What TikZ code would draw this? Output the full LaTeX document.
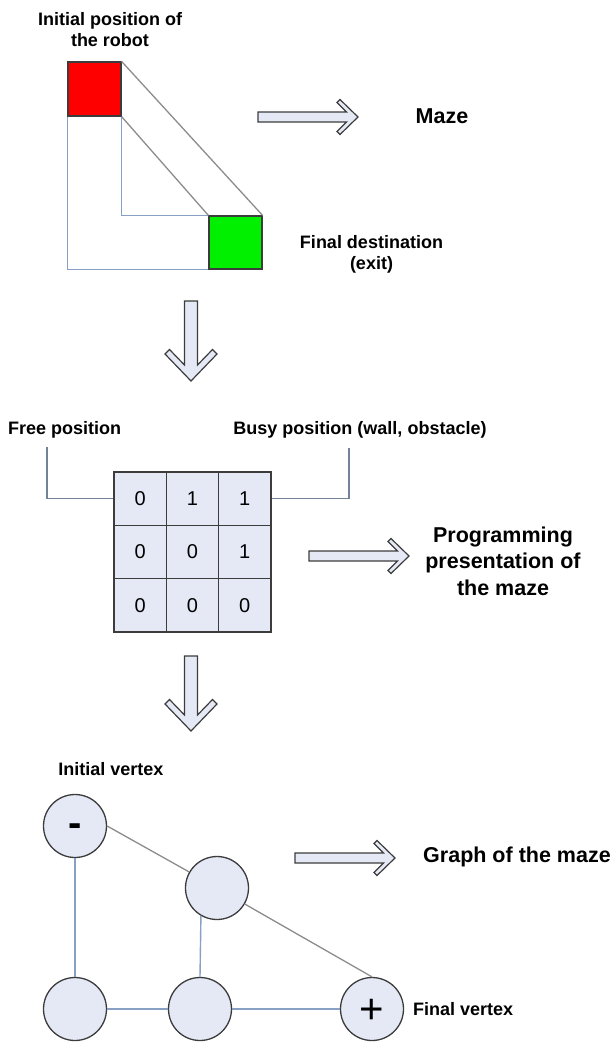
\documentclass[tikz,border=0pt]{standalone}
\usepackage{fontspec}
\setmainfont{Liberation Sans}
\usepackage{tikz}
\usetikzlibrary{calc,matrix,arrows}

\definecolor{wallblue}{RGB}{135,160,195}
\definecolor{wallgray}{RGB}{140,140,140}
\definecolor{leadgray}{RGB}{115,130,150}
\definecolor{cellfill}{RGB}{228,233,245}
\definecolor{rimgray}{RGB}{60,60,60}
\definecolor{robotred}{RGB}{255,0,0}
\definecolor{exitgreen}{RGB}{0,240,0}

\newcommand{\rarrow}[2]{\draw[hollow,shift={(#1,#2)}] (-100,-5) -- (-11.5,-5) -- (-21,-14.5) -- (-18,-17.5) -- (0,0) -- (-18,17.5) -- (-21,14.5) -- (-11.5,5) -- (-100,5) -- cycle;}
\newcommand{\darrow}[3]{\draw[hollow,shift={(#1,#2)}] (-6.5,-#3) -- (-6.5,-16) -- (-21.5,-31.5) -- (-26,-27) -- (0,0) -- (26,-27) -- (21.5,-31.5) -- (6.5,-16) -- (6.5,-#3) -- cycle;}

\begin{document}
\begin{tikzpicture}[x=1pt,y=-1pt,
                 lbl/.style={inner sep=0pt,align=center,font=\bfseries\fontsize{18}{21}\selectfont},
                 biglbl/.style={inner sep=0pt,align=center,font=\bfseries\fontsize{21.5}{26.5}\selectfont},
                 hollow/.style={draw=rimgray,fill=cellfill,line width=1.2pt},
                 cell/.style={draw=rimgray,fill=cellfill,minimum width=52.3pt,minimum height=53.3pt,inner sep=0pt,line width=1.3pt,font=\fontsize{20}{20}\selectfont},
                 vertex/.style={circle,draw=rimgray,fill=cellfill,minimum size=63pt,inner sep=0pt,line width=1.3pt},
                 square/.style={draw=rimgray,inner sep=0pt,line width=1.2pt},
                 wall/.style={draw=wallblue,line width=1.4pt},
                 slant/.style={draw=wallgray,line width=1.3pt},
                 leader/.style={draw=leadgray,line width=1.4pt}]
                 \useasboundingbox (0,0) rectangle (614,1042);
                 \node[square,fill=robotred,minimum width=53pt,minimum height=54pt](robot)at(94.5,89){};
                 \node[square,fill=exitgreen,minimum size=53pt](exit)at(235.5,242.5){};
                 \draw[wall] (robot.south west) -- (robot.south west |- exit.south west) -- (exit.south west);
                 \draw[wall] (robot.south east) -- (robot.south east |- exit.north west) -- (exit.north west);
                 \draw[slant] (robot.north east) -- (exit.north east);
                 \draw[slant] (robot.south east) -- (exit.north west);
                 \node[lbl](robotlbl)at(110,30){Initial position of\\the robot};
                 \node[biglbl](mazelbl)at(442,116){Maze};
                 \node[lbl](exitlbl)at(371.5,254){Final destination\\(exit)};
                 \rarrow{358}{117}
                 \darrow{191}{381}{80}
                 \node[lbl,anchor=west](freelbl)at(8,430){Free position};
                 \node[lbl](busylbl)at(360,430){Busy position (wall, obstacle)};
                 \matrix (grid) at (192.5,552) [matrix of nodes,nodes={cell},column sep=-1.3pt,row sep=-1.3pt]{
                   0 & 1 & 1 \\
                   0 & 0 & 1 \\
                   0 & 0 & 0 \\
                 };
                 \coordinate (freetop) at (47,447);
                 \coordinate (busytop) at (349,448);
                 \draw[leader] (freetop) |- (grid-1-1.west);
                 \draw[leader] (busytop) |- (grid-1-3.east);
                 \rarrow{409}{556}
                 \node[biglbl](proglbl)at(503,561){Programming\\presentation of\\the maze};
                 \darrow{191}{731}{75}
                 \node[lbl](initlbl)at(111,769){Initial vertex};
                 \node[vertex,font=\bfseries\fontsize{40}{40}\selectfont](start)at(75,826){\raisebox{-0.255em}[0pt][0pt]{-}};
                 \node[vertex](mid)at(217,888){};
                 \node[vertex](low1)at(75,1009){};
                 \node[vertex](low2)at(200,1009){};
                 \node[vertex,font=\fontsize{42}{42}\selectfont](goal)at(372,1009){\raisebox{-0.35em}[0pt][0pt]{+}};
                 \draw[wall] (start) -- (low1);
                 \draw[wall] (low1) -- (low2);
                 \draw[wall] (low2) -- (goal);
                 \draw[wall] (low2.north) -- (mid.240);
                 \draw[slant] (start.east) -- (mid.150);
                 \draw[slant] (mid.-30) -- (goal.north);
                 \rarrow{395}{858}
                 \node[biglbl](graphlbl)at(517,857){Graph of the maze};
                 \node[lbl,anchor=west](finallbl)at(413,1009){Final vertex};
               \end{tikzpicture}
\end{document}
